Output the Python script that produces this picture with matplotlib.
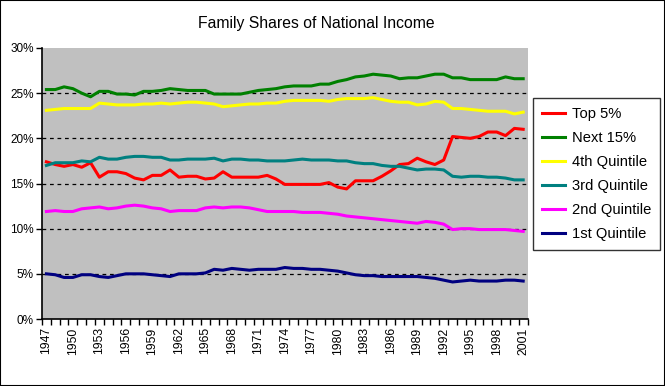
import numpy as np
import matplotlib
matplotlib.use("Agg")
import matplotlib.pyplot as plt
from matplotlib.patches import Rectangle
from matplotlib.ticker import FixedLocator, FuncFormatter

plt.rcParams['font.family'] = ['Liberation Sans', 'DejaVu Sans']

years = list(range(1947, 2002))

top5 = [17.4, 17.1, 16.9, 17.1, 16.8, 17.3, 15.7, 16.3, 16.3, 16.1,
        15.6, 15.4, 15.9, 15.9, 16.5, 15.7, 15.8, 15.8, 15.5, 15.6,
        16.3, 15.7, 15.7, 15.7, 15.7, 15.9, 15.5, 14.9, 14.9, 14.9,
        14.9, 14.9, 15.1, 14.6, 14.4, 15.3, 15.3, 15.3, 15.8, 16.4,
        17.1, 17.2, 17.8, 17.4, 17.1, 17.6, 20.2, 20.1, 20.0, 20.2,
        20.7, 20.7, 20.3, 21.1, 21.0]
next15 = [25.4, 25.4, 25.7, 25.5, 25.0, 24.6, 25.2, 25.2, 24.9, 24.9,
          24.8, 25.2, 25.2, 25.3, 25.5, 25.4, 25.3, 25.3, 25.3, 24.9,
          24.9, 24.9, 24.9, 25.1, 25.3, 25.4, 25.5, 25.7, 25.8, 25.8,
          25.8, 26.0, 26.0, 26.3, 26.5, 26.8, 26.9, 27.1, 27.0, 26.9,
          26.6, 26.7, 26.7, 26.9, 27.1, 27.1, 26.7, 26.7, 26.5, 26.5,
          26.5, 26.5, 26.8, 26.6, 26.6]
q4 = [23.1, 23.2, 23.3, 23.3, 23.3, 23.3, 23.9, 23.8, 23.7, 23.7,
      23.7, 23.8, 23.8, 23.9, 23.8, 23.9, 24.0, 24.0, 23.9, 23.8,
      23.5, 23.6, 23.7, 23.8, 23.8, 23.9, 23.9, 24.1, 24.2, 24.2,
      24.2, 24.2, 24.1, 24.3, 24.4, 24.4, 24.4, 24.5, 24.3, 24.1,
      24.0, 24.0, 23.7, 23.8, 24.1, 24.0, 23.3, 23.3, 23.2, 23.1,
      23.0, 23.0, 23.0, 22.7, 22.9]
q3 = [17.0, 17.3, 17.3, 17.3, 17.5, 17.4, 17.9, 17.7, 17.7, 17.9,
      18.0, 18.0, 17.9, 17.9, 17.6, 17.6, 17.7, 17.7, 17.7, 17.8,
      17.5, 17.7, 17.7, 17.6, 17.6, 17.5, 17.5, 17.5, 17.6, 17.7,
      17.6, 17.6, 17.6, 17.5, 17.5, 17.3, 17.2, 17.2, 17.0, 16.9,
      16.9, 16.7, 16.5, 16.6, 16.6, 16.5, 15.8, 15.7, 15.8, 15.8,
      15.7, 15.7, 15.6, 15.4, 15.4]
q2 = [11.9, 12.0, 11.9, 11.9, 12.2, 12.3, 12.4, 12.2, 12.3, 12.5,
      12.6, 12.5, 12.3, 12.2, 11.9, 12.0, 12.0, 12.0, 12.3, 12.4,
      12.3, 12.4, 12.4, 12.3, 12.1, 11.9, 11.9, 11.9, 11.9, 11.8,
      11.8, 11.8, 11.7, 11.6, 11.4, 11.3, 11.2, 11.1, 11.0, 10.9,
      10.8, 10.7, 10.6, 10.8, 10.7, 10.5, 9.9, 10.0, 10.0, 9.9,
      9.9, 9.9, 9.9, 9.8, 9.7]
q1 = [5.0, 4.9, 4.6, 4.6, 4.9, 4.9, 4.7, 4.6, 4.8, 5.0,
      5.0, 5.0, 4.9, 4.8, 4.7, 5.0, 5.0, 5.0, 5.1, 5.5,
      5.4, 5.6, 5.5, 5.4, 5.5, 5.5, 5.5, 5.7, 5.6, 5.6,
      5.5, 5.5, 5.4, 5.3, 5.1, 4.9, 4.8, 4.8, 4.7, 4.7,
      4.7, 4.7, 4.7, 4.6, 4.5, 4.3, 4.1, 4.2, 4.3, 4.2,
      4.2, 4.2, 4.3, 4.3, 4.2]

series = [("Top 5%", top5, "#FF0000"),
          ("Next 15%", next15, "#008000"),
          ("4th Quintile", q4, "#FFFF00"),
          ("3rd Quintile", q3, "#008080"),
          ("2nd Quintile", q2, "#FF00FF"),
          ("1st Quintile", q1, "#000080")]

fig = plt.figure(figsize=(6.65, 3.86), dpi=100)
fig.patch.set_facecolor("white")
fig.patches.append(Rectangle((0, 0), 1, 1, transform=fig.transFigure,
                             fill=False, edgecolor="black", linewidth=1.5))

ax = fig.add_axes([42 / 665, 67 / 386, 485.6 / 665, 271 / 386])
ax.set_facecolor("#C0C0C0")

x = np.arange(len(years))
for name, vals, col in series:
    ax.plot(x, vals, color=col, linewidth=2.2, label=name,
            solid_joinstyle="round")

ax.set_xlim(-0.5, len(years) - 0.5)
ax.set_ylim(0, 30)

# dashed gridlines like the excel original
for v in range(5, 30, 5):
    ax.axhline(v, color="black", linestyle=(0, (3, 3)), linewidth=0.9, zorder=1)

ax.set_yticks(range(0, 31, 5))
ax.yaxis.set_major_formatter(FuncFormatter(lambda v, p: f"{int(v)}%"))
ax.tick_params(axis="y", direction="out", length=4, width=1,
               labelsize=8.5, pad=2)

ax.set_xticks(x[::3])
ax.set_xticklabels([str(y) for y in years[::3]], rotation=90, fontsize=8.8)
ax.xaxis.set_minor_locator(FixedLocator(np.arange(-0.5, len(years), 1)))
ax.tick_params(axis="x", which="major", length=0, pad=6)
ax.tick_params(axis="x", which="minor", direction="out", length=4, width=1)

for s in ["top", "right"]:
    ax.spines[s].set_visible(False)
for s in ["left", "bottom"]:
    ax.spines[s].set_linewidth(1.2)

fig.text(0.475, 0.94, "Family Shares of National Income", ha="center",
         va="center", fontsize=11.3)

leg = ax.legend(loc="upper left", bbox_to_anchor=(533 / 665, 288 / 386),
                bbox_transform=fig.transFigure, borderaxespad=0,
                frameon=True, fancybox=False, edgecolor="black",
                fontsize=10.6, handlelength=1.6, labelspacing=0.68,
                borderpad=0.6, handletextpad=0.45)
leg.get_frame().set_linewidth(1)

fig.savefig("out.png", dpi=100, facecolor="white")
